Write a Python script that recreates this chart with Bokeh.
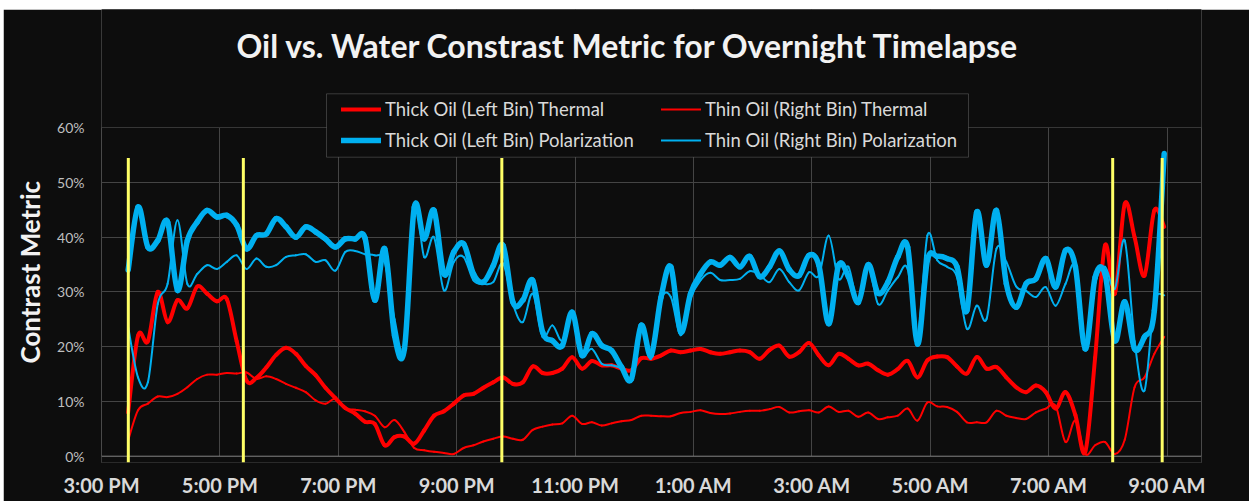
from bokeh.plotting import figure
from bokeh.models import (Range1d, FixedTicker, Legend, LegendItem, Label, Span, Title,
                          BoxAnnotation, ColumnDataSource, PrintfTickFormatter)
from bokeh.embed import file_html
from bokeh.resources import INLINE

# ---------------- data ----------------
# first timelapse frame at 3:27 PM, one frame every 10 minutes (hours since 3:00 PM)
first_frame_hours = 27 / 60
frame_step_hours = 10 / 60

thick_thermal = [8, 22, 21, 30, 24.5, 28.5, 27, 31, 29.7, 28.3,
                 28.7, 21, 13.8, 14.3, 16.2, 18.5, 19.8, 18.7, 16.5, 14.8,
                 12.5, 10.6, 8.8, 7.8, 6.3, 5.9, 2, 3.5, 3.6, 2.3,
                 4.7, 7.4, 8.2, 9.6, 11.1, 11.4, 12.5, 13.5, 14.4, 13.2,
                 13.5, 16.4, 15.2, 15.2, 16, 18.1, 16, 17.4, 16.6, 16.6,
                 16, 15.7, 17.9, 17.8, 18.4, 19.3, 19, 19.3, 19.6, 19,
                 18.7, 19, 19.3, 19, 17.8, 19.4, 20.2, 18.2, 19, 20.7,
                 18.4, 16.6, 18.7, 17.8, 16.6, 16.9, 15.7, 14.9, 15.9, 17.4,
                 14.4, 17.5, 18.2, 18.1, 16.4, 15.1, 18.1, 16, 16.3, 14.4,
                 12.6, 11.7, 12.9, 11.7, 8.7, 11.7, 7.5, 0.8, 18, 38.5,
                 29.7, 46.1, 40, 33, 44.9, 41.9]

thin_thermal = [2.9, 8.4, 9.6, 10.9, 10.8, 11.4, 12.6, 14.1, 14.9, 14.9,
                15.2, 15.1, 15.3, 14.1, 14.6, 14.1, 13.2, 12.5, 11.7, 10.2,
                9.6, 10.5, 8.7, 8.5, 8.2, 7.4, 5.3, 6.6, 4.4, 1.5,
                1.1, 0.8, 0.6, 0.4, 1.5, 2, 2.7, 3.2, 3.6, 3.2,
                3, 4.8, 5.4, 5.8, 6, 7.4, 5.9, 6.2, 5.6, 6,
                6.4, 6.6, 7.4, 7.4, 7.3, 7.3, 7.9, 8.1, 8.4, 7.9,
                7.7, 7.8, 8.1, 8.3, 8.3, 8.6, 9, 8, 8.2, 8.4,
                8, 9.1, 8.1, 8.3, 7.2, 8, 6.8, 7.1, 7.4, 8.7,
                6.5, 9.8, 9.1, 9, 8.1, 6.2, 6.2, 6.2, 8.3, 7.4,
                7, 6.8, 8, 8.7, 9.2, 2.6, 6.5, 0.4, 2, 2.6,
                0.4, 3, 12.6, 14.4, 18.7, 21.8]

thick_pol = [34, 45.5, 38.2, 39.4, 42.8, 30.3, 39.4, 42.8, 44.9, 43.7,
             44, 42.2, 37.9, 40.3, 40.6, 43.4, 41.9, 40, 41.9, 41,
             39.7, 38.2, 39.7, 39.7, 39.9, 28.5, 37.9, 22, 19.6, 45.5,
             39.7, 44.9, 33.3, 37.3, 38.8, 33.3, 31.8, 34.8, 38.5, 28.1,
             28.5, 32.1, 22.7, 21.1, 20.2, 26.3, 18.4, 22.4, 20.2, 19.3,
             16.3, 14.1, 23.9, 18.4, 29, 34.6, 22.7, 29.7, 33.3, 35.5,
             34.9, 36.3, 34.6, 36.5, 32.8, 34.6, 37.5, 34.1, 33, 36.7,
             34.9, 24.2, 34.9, 32.8, 28.1, 35, 29.8, 31.8, 36.4, 38.2,
             20.5, 35.8, 36.5, 36.1, 34.6, 26.6, 44.6, 34.9, 44.9, 31.5,
             27.2, 31.5, 32.4, 36.1, 30.9, 37.6, 34.6, 19.6, 32.7, 33.3,
             21.1, 28.2, 19.6, 21.8, 26.6, 55.3]

thin_pol = [23.6, 14.4, 13.5, 27.8, 31.5, 43.1, 31.5, 33.3, 34.9, 34.2,
            35.5, 36.7, 34.2, 36.1, 34.6, 34.9, 36.4, 36.7, 36.9, 35.5,
            35.8, 33.9, 37.3, 37.5, 36.9, 36.7, 35.5, 25, 19.9, 46.1,
            36.4, 40, 30.3, 35.5, 36.4, 32.1, 31.5, 31.8, 35.2, 27.8,
            24.5, 29.7, 21.8, 23.9, 21.1, 26, 18.7, 19.6, 16.9, 16.6,
            16, 14.1, 23.6, 17.8, 28.5, 29.1, 22.1, 28.8, 32.1, 33.5,
            32.2, 32.2, 32.4, 33.8, 33.2, 31.8, 34.2, 31.8, 30.3, 33.6,
            33, 40.3, 32.4, 34.6, 27.8, 34.6, 27.8, 30.3, 32.7, 34.2,
            21.8, 40.3, 35.8, 34.6, 32.7, 23.3, 27.5, 25.1, 37.9, 35.5,
            31, 30.2, 29.1, 30.9, 27.5, 31.5, 34.6, 19.9, 31.5, 34.6,
            30.6, 39.4, 21, 12, 28, 29.4]

# yellow event markers (hours since 3:00 PM) and their vertical extent (%)
event_hours = [0.453, 2.396, 6.762, 17.08, 17.916]
event_low, event_high = -1.15, 54.5

tick_hours = [0, 2, 4, 6, 8, 10, 12, 14, 16, 18]
tick_labels = ["3:00 PM", "5:00 PM", "7:00 PM", "9:00 PM", "11:00 PM",
               "1:00 AM", "3:00 AM", "5:00 AM", "7:00 AM", "9:00 AM"]
y_ticks = [0, 10, 20, 30, 40, 50, 60]

title_text = "Oil vs. Water Constrast Metric for Overnight Timelapse"
y_title = "Contrast Metric"
series_names = ["Thick Oil (Left Bin) Thermal", "Thin Oil (Right Bin) Thermal",
                "Thick Oil (Left Bin) Polarization", "Thin Oil (Right Bin) Polarization"]

# ---------------- helpers ----------------
def smoothed(xs, ys):
    """Bezier segments through the data points (like a spreadsheet 'smoothed line')."""
    n = len(xs)
    d = dict(x0=[], y0=[], x1=[], y1=[], cx0=[], cy0=[], cx1=[], cy1=[])
    for i in range(n - 1):
        xp, yp = (xs[i - 1], ys[i - 1]) if i > 0 else (xs[i], ys[i])
        xn, yn = (xs[i + 2], ys[i + 2]) if i + 2 < n else (xs[i + 1], ys[i + 1])
        d["x0"].append(xs[i]); d["y0"].append(ys[i])
        d["x1"].append(xs[i + 1]); d["y1"].append(ys[i + 1])
        d["cx0"].append(xs[i] + (xs[i + 1] - xp) / 6)
        d["cy0"].append(ys[i] + (ys[i + 1] - yp) / 6)
        d["cx1"].append(xs[i + 1] - (xn - xs[i]) / 6)
        d["cy1"].append(ys[i + 1] - (yn - ys[i]) / 6)
    return ColumnDataSource(d)

# ---------------- plot ----------------
BG = "#0d0d0d"
FONT = "Lato"
n = len(thick_thermal)
hours = [first_frame_hours + i * frame_step_hours for i in range(n)]

p = figure(width=1246, height=492, output_backend="svg", toolbar_location=None,
           title_location=None,
           x_range=Range1d(0, 18.58), y_range=Range1d(-1.15, 81.61),
           min_border_left=98, min_border_right=48, min_border_top=0,
           min_border_bottom=39)
p.margin = (9, 0, 0, 3)
p.background_fill_color = BG
p.border_fill_color = BG
p.outline_line_color = None

# grid
p.xgrid.ticker = FixedTicker(ticks=tick_hours)
p.ygrid.ticker = FixedTicker(ticks=y_ticks)
for g in (p.xgrid, p.ygrid):
    g.grid_line_color = "#444444"
    g.grid_line_width = 1

# grid is only shown inside the 0-60 % plot area
p.add_layout(BoxAnnotation(bottom=-10, top=0, fill_color=BG, fill_alpha=1,
                           line_color=None, level="underlay"))
p.add_layout(BoxAnnotation(bottom=60.12, top=100, fill_color=BG, fill_alpha=1,
                           line_color=None, level="underlay"))
p.add_layout(Span(location=0, dimension="width", line_color="#808080",
                  line_width=1, level="underlay"))

# axes
xa = p.xaxis[0]
xa.ticker = FixedTicker(ticks=tick_hours)
xa.major_label_overrides = {h: lab for h, lab in zip(tick_hours, tick_labels)}
xa.axis_line_color = None
xa.major_tick_line_color = None
xa.minor_tick_line_color = None
xa.major_tick_out = 0
xa.major_tick_in = 0
xa.minor_tick_out = 0
xa.major_label_text_font = FONT
xa.major_label_text_font_style = "bold"
xa.major_label_text_font_size = "20px"
xa.major_label_text_color = "#d9d9d9"
xa.major_label_standoff = 10

ya = p.yaxis[0]
ya.ticker = FixedTicker(ticks=y_ticks)
ya.formatter = PrintfTickFormatter(format="%d%%")
ya.axis_line_color = None
ya.major_tick_line_color = None
ya.minor_tick_line_color = None
ya.major_tick_out = 0
ya.major_tick_in = 0
ya.minor_tick_out = 0
ya.major_label_text_font = FONT
ya.major_label_text_font_size = "14px"
ya.major_label_text_color = "#bfbfbf"
ya.major_label_standoff = 17

# series (drawn in spreadsheet order: later series on top)
bez = dict(x0="x0", y0="y0", x1="x1", y1="y1", cx0="cx0", cy0="cy0", cx1="cx1", cy1="cy1")
r1 = p.bezier(source=smoothed(hours, thick_thermal), line_color="#ff0000",
              line_width=4, line_cap="round", **bez)
r2 = p.bezier(source=smoothed(hours, thin_thermal), line_color="#ff0000",
              line_width=2, line_cap="round", **bez)
r3 = p.bezier(source=smoothed(hours, thick_pol), line_color="#00b0f0",
              line_width=5.5, line_cap="round", **bez)
r4 = p.bezier(source=smoothed(hours, thin_pol), line_color="#00b0f0",
              line_width=2, line_cap="round", **bez)

# event markers
ev = ColumnDataSource(dict(x=event_hours, y0=[event_low] * len(event_hours),
                           y1=[event_high] * len(event_hours)))
p.segment("x", "y0", "x", "y1", source=ev, line_color="#ffff66", line_width=3)

# legend frame + legend
p.add_layout(BoxAnnotation(left=225, right=867, bottom=305.3, top=368.7,
                           left_units="screen", right_units="screen",
                           bottom_units="screen", top_units="screen",
                           fill_color=BG, fill_alpha=1, line_color="#a6a6a6",
                           line_width=1))
legend = Legend(items=[LegendItem(label=series_names[0], renderers=[r1]),
                       LegendItem(label=series_names[1], renderers=[r2]),
                       LegendItem(label=series_names[2], renderers=[r3]),
                       LegendItem(label=series_names[3], renderers=[r4])],
                location=(240, 311.5), orientation="horizontal", ncols=2)
legend.label_text_font = FONT
legend.label_text_font_size = "18.5px"
legend.label_text_color = "#d9d9d9"
legend.label_width = 267
legend.label_height = 20
legend.glyph_width = 40
legend.glyph_height = 20
legend.label_standoff = 4
legend.spacing = 9
legend.padding = 6
legend.margin = 0
legend.background_fill_alpha = 0
legend.border_line_color = None
p.add_layout(legend, "center")

# chart title (inside the canvas frame region)
p.add_layout(Label(x=527, y=417, x_units="screen", y_units="screen", text=title_text,
                   text_align="center", text_baseline="alphabetic", text_font=FONT,
                   text_font_style="bold", text_font_size="32px", text_color="#f2f2f2"))

# vertical axis title
p.add_layout(Title(text=y_title, align="left", offset=99, standoff=16,
                   vertical_align="middle",
                   text_font=FONT, text_font_style="bold", text_font_size="26px",
                   text_color="#f2f2f2"), "left")

open("out.html", "w").write(file_html(p, INLINE))
